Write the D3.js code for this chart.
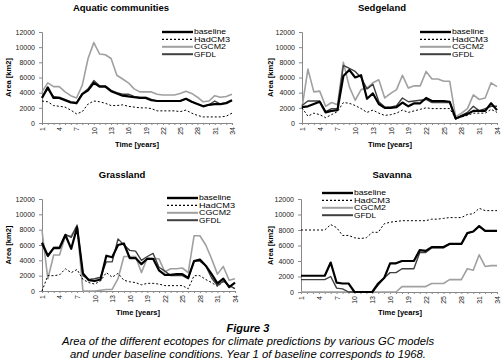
<!DOCTYPE html>
<html>
<head>
<meta charset="utf-8">
<script src="https://cdn.jsdelivr.net/npm/d3@7"></script>
<style>
  body { margin: 0; background: #fff; }
  svg { font-family: "Liberation Sans", Arial, sans-serif; }
</style>
</head>
<body>
<svg width="504" height="363"></svg>
<script>
// ====== data ======
const years = d3.range(1, 35);
const xTickLabels = [1, 4, 7, 10, 13, 16, 19, 22, 25, 28, 31, 34];
const yTickLabels = [0, 2000, 4000, 6000, 8000, 10000, 12000];
const seriesNames = ["baseline", "HadCM3", "CGCM2", "GFDL"];

// Aquatic communities
const aquaticBaseline = [3300,4700,3300,3300,3000,2700,2600,3800,4300,5300,4800,4800,4200,3900,3600,3500,3400,3300,3300,3000,2900,2900,2900,2900,2900,3200,2800,2500,2200,2400,2500,2500,2600,3000];
const aquaticHadCM3   = [2900,2800,2300,2200,2100,1700,1200,1500,2500,2900,2800,2600,2300,2300,2400,2200,2100,2000,2000,1900,1600,1600,1600,1600,1500,1700,1300,1000,800,800,800,800,900,1300];
const aquaticCGCM2    = [4100,5300,4800,4800,4100,3600,3300,5000,8500,10600,9100,9000,8500,6300,5800,5300,4500,4100,4100,4100,3800,3700,3700,3700,3900,4200,3900,3400,2800,2900,3600,3400,3500,3800];
const aquaticGFDL     = [3400,4500,3500,3400,3100,2800,2700,3900,4500,5600,4900,4900,4300,4000,3800,3800,3500,3400,3400,3100,2900,2900,2900,2900,2900,3200,2800,2500,2200,2400,2900,2500,2700,3000];

// Sedgeland
const sedgeBaseline = [2100,2200,2500,2800,1400,1600,1700,6200,7000,6000,6300,3200,3900,2500,2000,2000,2100,2700,2200,2600,2600,3300,2900,2900,2900,2800,600,900,1200,1600,1600,1600,2600,1700];
const sedgeHadCM3   = [2000,900,1300,1100,700,1100,1500,2700,2600,2300,1900,1400,1700,1300,1000,1100,1300,1700,1400,1600,1800,2000,1900,1900,1900,1900,600,800,1000,1300,1300,1300,1800,1400];
const sedgeCGCM2    = [2000,7100,4100,4200,2200,2700,2400,8000,4800,3000,4400,4600,5300,5700,3300,3900,4400,6300,4600,4900,4900,6800,5800,5800,5500,5500,800,1300,1900,3700,3100,3300,5300,4800];
const sedgeGFDL     = [2300,2900,2900,2900,1500,1900,1900,7600,7200,6800,6000,4500,5100,2800,2100,2100,2300,3300,2800,2900,3000,3100,2700,2700,2700,2700,500,1000,1400,2200,1600,1900,2200,2200];

// Grassland
const grassBaseline = [6300,4600,5600,5600,7300,5500,8300,2300,1400,1300,1500,4600,4400,6000,6200,4300,4300,3500,4200,4200,2700,2100,2100,2200,2200,1700,3900,4100,3300,2200,1000,1600,500,1100];
const grassHadCM3   = [0,2000,2000,2100,2900,2400,2800,1500,1100,900,1300,2400,1800,2300,1400,1200,1100,800,1000,1000,900,700,700,700,700,300,2000,2000,1500,1100,600,1200,700,300];
const grassCGCM2    = [7900,1600,4700,4700,7200,7200,8400,0,0,0,100,200,200,1600,4500,4500,4500,2400,4300,4200,4200,2500,2900,2900,3000,2400,7200,7200,6000,4200,2200,3200,1400,1600];
const grassGFDL     = [6100,4500,5700,5700,7400,7000,8600,2000,1500,1600,1800,3800,3800,6800,6000,5300,5200,4000,4500,4900,3100,2600,2000,2000,2000,1600,3900,3900,3300,1700,700,1300,700,300];

// Savanna
const savBaseline = [2100,2100,2100,2100,2100,3800,1200,1100,1100,0,0,0,0,1100,1800,3700,3700,4000,4000,4000,5400,5300,5800,5800,5800,6200,6200,6200,7600,7800,8500,7900,7900,7900];
const savHadCM3   = [8000,8000,8000,8000,8000,8700,8300,7300,7300,7000,6900,7000,7700,7700,8800,9000,9100,9200,9200,9200,9200,9200,9400,9400,9500,9600,9600,9600,10000,10100,10800,10500,10500,10500];
const savCGCM2    = [0,0,0,0,0,0,0,0,0,0,0,0,0,0,0,0,0,700,700,700,700,700,1100,1100,1100,1600,1600,1600,3000,2800,4800,3300,3400,3400];
const savGFDL     = [1600,1600,1600,1600,1600,2000,500,400,0,0,0,0,0,900,1800,2500,2500,3000,3000,3000,5100,5100,5700,5700,5700,6200,6200,6200,7600,7800,8500,7900,7900,7900];

// ====== styles ======
const lineStyle = {
  baseline: { stroke: "#000", width: 2.2, dash: null },
  HadCM3:   { stroke: "#000", width: 1, dash: "2,2" },
  CGCM2:    { stroke: "#a0a0a0", width: 1.6, dash: null },
  GFDL:     { stroke: "#404040", width: 1.4, dash: null }
};
// legend text widths as seen in the reference
const legendTextWidth = { baseline: 32, HadCM3: 36, CGCM2: 32, GFDL: 22 };

const svg = d3.select("svg");

const panels = [
  { title: "Aquatic communities", data: [aquaticBaseline, aquaticHadCM3, aquaticCGCM2, aquaticGFDL],
    x0: 42, x1: 232, yTop: 32, yBot: 123, titleX: 121, titleY: 11,
    legX: 162, legY: 32, yLabX: 8, xLabX: 137, xLabY: 147 },
  { title: "Sedgeland", data: [sedgeBaseline, sedgeHadCM3, sedgeCGCM2, sedgeGFDL],
    x0: 302, x1: 497, yTop: 32, yBot: 123, titleX: 382, titleY: 11,
    legX: 420, legY: 32, yLabX: 270, xLabX: 390, xLabY: 147 },
  { title: "Grassland", data: [grassBaseline, grassHadCM3, grassCGCM2, grassGFDL],
    x0: 42, x1: 235, yTop: 199, yBot: 291, titleX: 122, titleY: 178,
    legX: 167, legY: 198, yLabX: 8, xLabX: 138, xLabY: 315 },
  { title: "Savanna", data: [savBaseline, savHadCM3, savCGCM2, savGFDL],
    x0: 301, x1: 497, yTop: 199, yBot: 292, titleX: 392, titleY: 178,
    legX: 322, legY: 193, yLabX: 270, xLabX: 400, xLabY: 315 }
];

panels.forEach(p => {
  const g = svg.append("g");
  const x = d3.scaleLinear().domain([1, 34]).range([p.x0, p.x1]);
  const y = d3.scaleLinear().domain([0, 12000]).range([p.yBot, p.yTop]);

  // title
  g.append("text")
    .attr("x", p.titleX).attr("y", p.titleY)
    .attr("text-anchor", "middle")
    .attr("font-size", 9.5).attr("font-weight", "bold")
    .text(p.title);

  // y axis
  const yAxis = g.append("g")
    .attr("transform", `translate(${p.x0},0)`)
    .call(d3.axisLeft(y).tickValues(yTickLabels).tickSize(3).tickPadding(4).tickFormat(d3.format("d")));
  yAxis.selectAll("text").attr("font-size", 7).attr("fill", "#222").style("font-family", "Liberation Sans, Arial, sans-serif");
  yAxis.selectAll("line, path").attr("stroke", "#888");

  // x axis
  const xAxis = g.append("g")
    .attr("transform", `translate(0,${p.yBot})`)
    .call(d3.axisBottom(x).tickValues(years).tickSize(2)
      .tickFormat(d => xTickLabels.includes(d) ? d : ""));
  xAxis.selectAll("line, path").attr("stroke", "#888");
  xAxis.selectAll("text")
    .attr("font-size", 7).attr("fill", "#222")
    .style("font-family", "Liberation Sans, Arial, sans-serif")
    .attr("text-anchor", "end")
    .attr("transform", "rotate(-90)")
    .attr("x", -4).attr("y", 0).attr("dy", "0.35em");

  // axis labels
  g.append("text")
    .attr("transform", `translate(${p.yLabX},${(p.yTop + p.yBot) / 2}) rotate(-90)`)
    .attr("text-anchor", "middle").attr("dy", "0.35em")
    .attr("font-size", 7.5).attr("font-weight", "bold")
    .text("Area [km2]");
  g.append("text")
    .attr("x", p.xLabX).attr("y", p.xLabY)
    .attr("text-anchor", "middle")
    .attr("font-size", 7.5).attr("font-weight", "bold")
    .text("Time [years]");

  // lines (baseline drawn last, on top)
  const line = d3.line().x((d, i) => x(years[i])).y(d => y(d));
  [2, 1, 3, 0].forEach(k => {
    const st = lineStyle[seriesNames[k]];
    g.append("path")
      .datum(p.data[k])
      .attr("fill", "none")
      .attr("stroke", st.stroke)
      .attr("stroke-width", st.width)
      .attr("stroke-dasharray", st.dash)
      .attr("stroke-linejoin", "round")
      .attr("d", line);
  });

  // legend
  seriesNames.forEach((name, i) => {
    const st = lineStyle[name];
    const ly = p.legY + i * 7.4;
    g.append("line")
      .attr("x1", p.legX).attr("x2", p.legX + 31)
      .attr("y1", ly).attr("y2", ly)
      .attr("stroke", st.stroke)
      .attr("stroke-width", name === "baseline" ? 2.4 : (name === "HadCM3" ? 1.1 : 2))
      .attr("stroke-dasharray", st.dash);
    g.append("text")
      .attr("x", p.legX + 32).attr("y", ly)
      .attr("dy", "0.36em")
      .attr("font-size", 6.6)
      .attr("textLength", legendTextWidth[name])
      .attr("lengthAdjust", "spacingAndGlyphs")
      .text(name);
  });
});

// caption
const caption = svg.append("g").attr("font-style", "italic").attr("text-anchor", "middle");
caption.append("text").attr("x", 248).attr("y", 332)
  .attr("font-size", 11).attr("font-weight", "bold").text("Figure 3");
caption.append("text").attr("x", 248).attr("y", 345).attr("font-size", 10.2)
  .attr("textLength", 372).attr("lengthAdjust", "spacingAndGlyphs")
  .text("Area of the different ecotopes for climate predictions by various GC models");
caption.append("text").attr("x", 248).attr("y", 358).attr("font-size", 10.2)
  .attr("textLength", 356).attr("lengthAdjust", "spacingAndGlyphs")
  .text("and under baseline conditions. Year 1 of baseline corresponds to 1968.");
</script>
</body>
</html>
